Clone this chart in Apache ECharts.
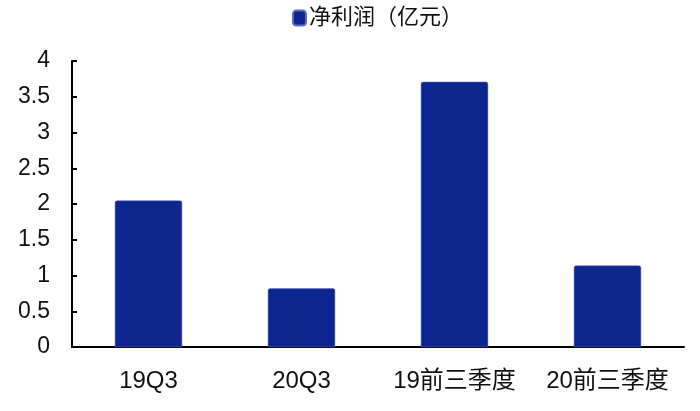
<!DOCTYPE html>
<html>
<head>
<meta charset="utf-8">
<script src="https://cdn.jsdelivr.net/npm/echarts@6/dist/echarts.min.js"></script>
<style>
  html, body { margin: 0; padding: 0; background: #fff; }
  #main { width: 700px; height: 411px; }
</style>
</head>
<body>
<div id="main"></div>
<script>
// 数据
const categories = ['19Q3', '20Q3', '19前三季度', '20前三季度'];
const profit = [2.05, 0.82, 3.71, 1.14];
const seriesName = '净利润（亿元）';

const myChart = echarts.init(document.getElementById('main'));
myChart.setOption({
    animation: false,
    textStyle: { fontFamily: 'Arial, "Liberation Sans", "Noto Sans CJK SC", sans-serif' },
    legend: {
        top: 2,
        left: 287,
        itemWidth: 13,
        itemHeight: 15,
        itemGap: 4,
        textStyle: { fontSize: 22, color: '#111', padding: [0, 0, 0, -2] },
        data: [seriesName]
    },
    grid: { left: 72, right: 16, top: 61, bottom: 64 },
    xAxis: {
        type: 'category',
        data: categories,
        axisLine: { lineStyle: { color: '#000', width: 2 } },
        axisTick: { inside: true, length: 6, lineStyle: { color: '#000', width: 2 } },
        axisLabel: { fontSize: 24, color: '#111', margin: 22, interval: 0, hideOverlap: false }
    },
    yAxis: {
        type: 'value',
        min: 0,
        max: 4,
        interval: 0.5,
        splitLine: { show: false },
        axisLine: { show: true, lineStyle: { color: '#000', width: 2 } },
        axisTick: { show: true, inside: true, length: 5, lineStyle: { color: '#000', width: 2 } },
        axisLabel: { fontSize: 23, color: '#111', margin: 22 }
    },
    series: [
        {
            name: seriesName,
            type: 'bar',
            data: profit,
            barWidth: '44%',
            itemStyle: {
                color: '#0d268f',
                borderColor: '#5a6fc0',
                borderWidth: 0.5,
                borderRadius: [2, 2, 0, 0]
            }
        }
    ]
});
</script>
</body>
</html>
